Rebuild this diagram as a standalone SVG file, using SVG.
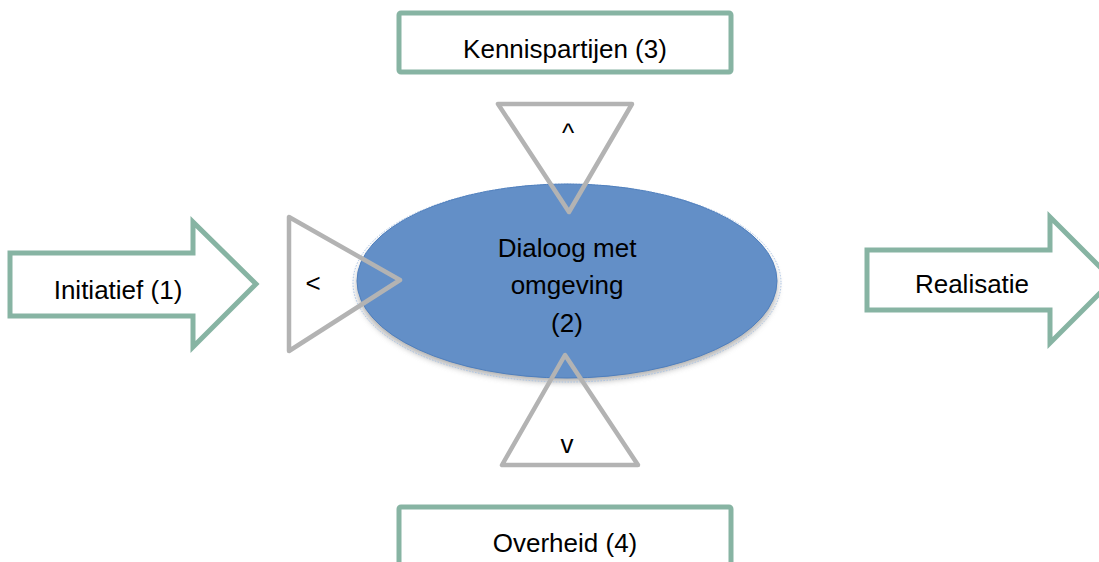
<svg xmlns="http://www.w3.org/2000/svg" width="1099" height="562" viewBox="0 0 1099 562">
<defs>
<style>
.arrow{fill:#fff;stroke:#87b4a3;stroke-width:5;stroke-linejoin:miter}
.box{fill:#fff;stroke:#87b4a3;stroke-width:5}
.tri{fill:none;stroke:#b3b3b3;stroke-width:4.5;stroke-linejoin:round}
.t{font-family:"Liberation Sans",Arial,sans-serif;font-size:26px;fill:#000;text-anchor:middle}
</style>
<filter id="sh" x="-10%" y="-10%" width="120%" height="130%">
<feGaussianBlur stdDeviation="3"/>
</filter>
</defs>
<rect width="1099" height="562" fill="#fff"/>
<g id="node-initiatief">
<polygon class="arrow" points="10,253 193,253 193,222 256,284 193,347 193,316 10,316"/>
<text class="t" x="118" y="299">Initiatief (1)</text>
</g>
<g id="node-realisatie">
<polygon class="arrow" points="867,250 1050,250 1050,217 1113,280 1050,343 1050,310 867,310"/>
<text class="t" x="972" y="293">Realisatie</text>
</g>
<g id="node-kennispartijen">
<rect class="box" x="399" y="13" width="332" height="59" rx="2"/>
<text class="t" x="565" y="58">Kennispartijen (3)</text>
</g>
<g id="node-overheid">
<rect class="box" x="399" y="507" width="332" height="70" rx="2"/>
<text class="t" x="565" y="552">Overheid (4)</text>
</g>
<g id="node-dialoog">
<ellipse cx="567" cy="286" rx="210" ry="96" fill="#7a7a7a" opacity="0.6" filter="url(#sh)"/>
<ellipse cx="567" cy="283" rx="214" ry="99" fill="none" stroke="#a8c2e4" stroke-width="1" stroke-dasharray="1.5 1.5"/>
<ellipse cx="567" cy="281" rx="210" ry="97" fill="#638fc7" stroke="#4f7fbd" stroke-width="1"/>
<text class="t" x="567" y="257">Dialoog met</text>
<text class="t" x="567" y="294">omgeving</text>
<text class="t" x="567" y="332">(2)</text>
</g>
<g id="connectors">
<g id="tri-left">
<polygon class="tri" points="289,217 289,351 400,280"/>
<text class="t" x="313" y="292">&lt;</text>
</g>
<g id="tri-top">
<polygon class="tri" points="498,104 632,104 569,212"/>
<text class="t" x="568" y="142">^</text>
</g>
<g id="tri-bottom">
<polygon class="tri" points="565,355 502,465 638,465"/>
<text class="t" x="567" y="453">v</text>
</g>
</g>
</svg>
